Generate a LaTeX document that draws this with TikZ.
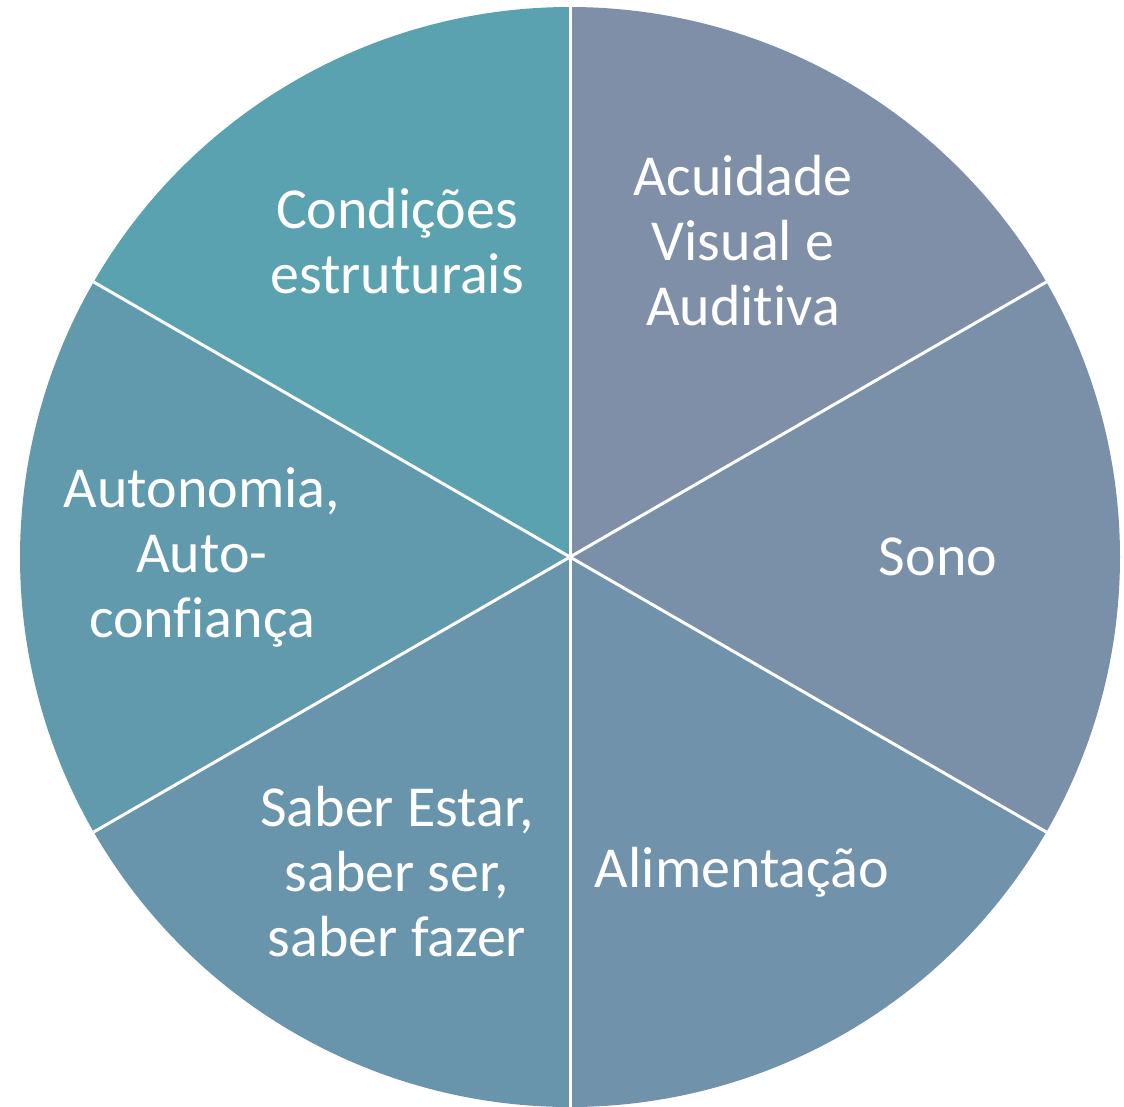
\documentclass[tikz,border=0pt]{standalone}
\usepackage{fontspec}
\setmainfont[Ligatures=NoCommon]{Carlito}
\usetikzlibrary{positioning,calc}
\definecolor{segA}{RGB}{127,143,168}
\definecolor{segB}{RGB}{122,143,168}
\definecolor{segC}{RGB}{113,146,171}
\definecolor{segD}{RGB}{104,149,171}
\definecolor{segE}{RGB}{98,154,173}
\definecolor{segF}{RGB}{90,162,175}
\newcommand{\nolig}{\kern0pt}

\begin{document}
\begin{tikzpicture}[x=1pt, y=-1pt,
    lbl/.style={text=white, align=center, font=\fontsize{58}{65}\selectfont},
    divider/.style={draw=white, line width=3pt}]
    \useasboundingbox (0,0) rectangle (1124,1106);
    \coordinate (c) at (570,557);
    % angles negated because y points down
    \foreach \a/\b/\col in {-90/-30/segA, -30/30/segB, 30/90/segC, 90/150/segD, 150/210/segE, 210/270/segF}
        \fill[\col] (c) -- ++(\a:550) arc[start angle=\a, end angle=\b, radius=550] -- cycle;
    \foreach \a [count=\i] in {-90,-30,30,90,150,210}
        \coordinate (p\i) at ($(c)+(\a:550)$);
    \foreach \i in {1,...,6}
        \draw[divider] (c) -- (p\i);
                            \node[lbl] (acuidade) at (743,241) {Acuidade\\Visual e\\Audit\nolig iva};
                            \node[lbl] (sono) at (938,557) {Sono};
                            \node[lbl] (alimentacao) at (742,872) {Alimentação};
                            \node[lbl] (saber) at (397,872) {Saber Estar,\\saber ser,\\saber fazer};
                            \node[lbl] (autonomia) at (202,557) {Autonomia,\\Auto-\\conf\nolig iança};
                            \node[lbl] (condicoes) at (397,241) {Condições\\estruturais};
\end{tikzpicture}
\end{document}
